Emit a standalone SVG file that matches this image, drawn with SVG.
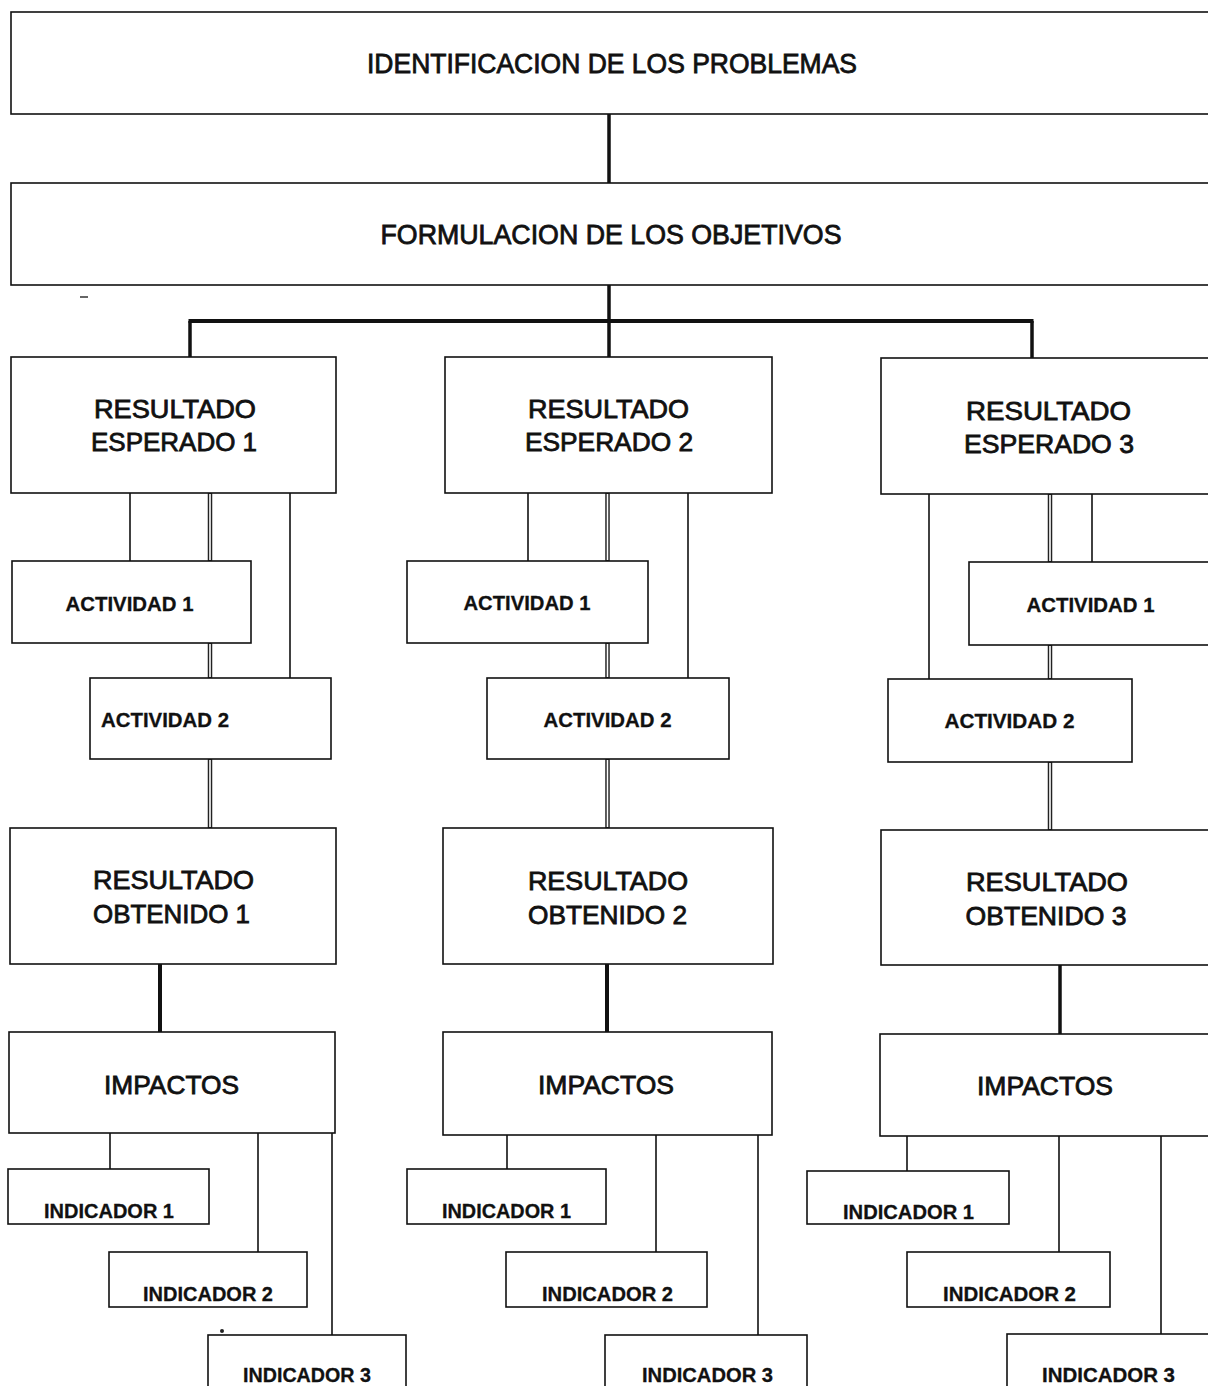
<svg xmlns="http://www.w3.org/2000/svg" width="1208" height="1386" viewBox="0 0 1208 1386">
<style>
  .box { fill: #fff; stroke: #111; stroke-width: 1.6; }
  .big { font-family: "Liberation Sans", Arial, sans-serif; font-size: 26px; fill: #111; stroke: #111; stroke-width: 0.8; text-anchor: middle; }
  .title { font-family: "Liberation Sans", Arial, sans-serif; font-size: 27px; fill: #111; stroke: #111; stroke-width: 0.8; text-anchor: middle; }
  .small { font-family: "Liberation Sans", Arial, sans-serif; font-size: 21px; font-weight: bold; fill: #111; stroke: #111; stroke-width: 0.3; text-anchor: middle; }
  .thin { stroke: #111; stroke-width: 1.6; fill: none; }
  .thick { stroke: #111; stroke-width: 3.5; fill: none; }
  .dbl-o { stroke: #222; stroke-width: 4.5; fill: none; }
  .dbl-i { stroke: #fff; stroke-width: 1.6; fill: none; }
</style>

<g id="connectors">
  <line class="thick" x1="609" y1="114" x2="609" y2="183"/>
  <line class="thick" x1="609" y1="285" x2="609" y2="321"/>
  <line class="thick" x1="188.5" y1="321" x2="1033.5" y2="321" style="stroke-width:4"/>
  <line class="thick" x1="190" y1="321" x2="190" y2="357"/>
  <line class="thick" x1="609" y1="321" x2="609" y2="357"/>
  <line class="thick" x1="1032" y1="321" x2="1032" y2="358"/>

  <!-- column 1 -->
  <line class="thin" x1="130" y1="493" x2="130" y2="561"/>
  <line class="thin" x1="290" y1="493" x2="290" y2="678"/>
  <path class="dbl-o" d="M210 493V561M210 643V678M210 759V828"/>
  <path class="dbl-i" d="M210 494V560M210 644V677M210 760V827"/>
  <line class="thick" x1="160" y1="964" x2="160" y2="1032" style="stroke-width:4"/>
  <line class="thin" x1="110" y1="1133" x2="110" y2="1169"/>
  <line class="thin" x1="258" y1="1133" x2="258" y2="1252"/>
  <line class="thin" x1="332" y1="1133" x2="332" y2="1335"/>

  <!-- column 2 -->
  <line class="thin" x1="528" y1="493" x2="528" y2="561"/>
  <line class="thin" x1="688" y1="493" x2="688" y2="678"/>
  <path class="dbl-o" d="M607.5 493V561M607.5 643V678M607.5 759V828"/>
  <path class="dbl-i" d="M607.5 494V560M607.5 644V677M607.5 760V827"/>
  <line class="thick" x1="607" y1="964" x2="607" y2="1032" style="stroke-width:4"/>
  <line class="thin" x1="507" y1="1135" x2="507" y2="1169"/>
  <line class="thin" x1="656" y1="1135" x2="656" y2="1252"/>
  <line class="thin" x1="758" y1="1135" x2="758" y2="1335"/>

  <!-- column 3 -->
  <line class="thin" x1="929" y1="494" x2="929" y2="679"/>
  <line class="thin" x1="1092" y1="494" x2="1092" y2="562"/>
  <path class="dbl-o" d="M1050 494V562M1050 645V679M1050 762V830"/>
  <path class="dbl-i" d="M1050 495V561M1050 646V678M1050 763V829"/>
  <line class="thick" x1="1060" y1="965" x2="1060" y2="1034"/>
  <line class="thin" x1="907" y1="1136" x2="907" y2="1171"/>
  <line class="thin" x1="1059" y1="1136" x2="1059" y2="1252"/>
  <line class="thin" x1="1161" y1="1136" x2="1161" y2="1334"/>
</g>

<g id="marks">
  <line x1="80" y1="297" x2="88" y2="297" stroke="#333" stroke-width="1.5"/>
  <circle cx="222" cy="1331" r="2" fill="#222"/>
</g>

<g id="problemas">
  <rect class="box" x="11" y="12" width="1212" height="102"/>
  <text class="title" x="612" y="73" textLength="490" lengthAdjust="spacingAndGlyphs">IDENTIFICACION DE LOS PROBLEMAS</text>
</g>
<g id="objetivos">
  <rect class="box" x="11" y="183" width="1212" height="102"/>
  <text class="title" x="611" y="244" textLength="461" lengthAdjust="spacingAndGlyphs">FORMULACION DE LOS OBJETIVOS</text>
</g>

<g id="esperado1">
  <rect class="box" x="11" y="357" width="325" height="136"/>
  <text class="big" x="175" y="418" textLength="162" lengthAdjust="spacingAndGlyphs">RESULTADO</text>
  <text class="big" x="174" y="451" textLength="166" lengthAdjust="spacingAndGlyphs">ESPERADO 1</text>
</g>
<g id="esperado2">
  <rect class="box" x="445" y="357" width="327" height="136"/>
  <text class="big" x="608.5" y="418" textLength="161" lengthAdjust="spacingAndGlyphs">RESULTADO</text>
  <text class="big" x="609" y="451" textLength="168" lengthAdjust="spacingAndGlyphs">ESPERADO 2</text>
</g>
<g id="esperado3">
  <rect class="box" x="881" y="358" width="340" height="136"/>
  <text class="big" x="1048.5" y="420" textLength="165" lengthAdjust="spacingAndGlyphs">RESULTADO</text>
  <text class="big" x="1049" y="453" textLength="170" lengthAdjust="spacingAndGlyphs">ESPERADO 3</text>
</g>

<g id="actividad1-1">
  <rect class="box" x="12" y="561" width="239" height="82"/>
  <text class="small" x="129.5" y="611" textLength="128" lengthAdjust="spacingAndGlyphs">ACTIVIDAD 1</text>
</g>
<g id="actividad1-2">
  <rect class="box" x="90" y="678" width="241" height="81"/>
  <text class="small" x="165" y="727" textLength="128" lengthAdjust="spacingAndGlyphs">ACTIVIDAD 2</text>
</g>
<g id="actividad2-1">
  <rect class="box" x="407" y="561" width="241" height="82"/>
  <text class="small" x="527" y="610" textLength="127" lengthAdjust="spacingAndGlyphs">ACTIVIDAD 1</text>
</g>
<g id="actividad2-2">
  <rect class="box" x="487" y="678" width="242" height="81"/>
  <text class="small" x="607.5" y="727" textLength="128" lengthAdjust="spacingAndGlyphs">ACTIVIDAD 2</text>
</g>
<g id="actividad3-1">
  <rect class="box" x="969" y="562" width="250" height="83"/>
  <text class="small" x="1090.5" y="612" textLength="128" lengthAdjust="spacingAndGlyphs">ACTIVIDAD 1</text>
</g>
<g id="actividad3-2">
  <rect class="box" x="888" y="679" width="244" height="83"/>
  <text class="small" x="1009.5" y="728" textLength="130" lengthAdjust="spacingAndGlyphs">ACTIVIDAD 2</text>
</g>

<g id="obtenido1">
  <rect class="box" x="10" y="828" width="326" height="136"/>
  <text class="big" x="173.5" y="889" textLength="161" lengthAdjust="spacingAndGlyphs">RESULTADO</text>
  <text class="big" x="171.5" y="923" textLength="157" lengthAdjust="spacingAndGlyphs">OBTENIDO 1</text>
</g>
<g id="obtenido2">
  <rect class="box" x="443" y="828" width="330" height="136"/>
  <text class="big" x="608" y="890" textLength="160" lengthAdjust="spacingAndGlyphs">RESULTADO</text>
  <text class="big" x="607.5" y="924" textLength="159" lengthAdjust="spacingAndGlyphs">OBTENIDO 2</text>
</g>
<g id="obtenido3">
  <rect class="box" x="881" y="830" width="340" height="135"/>
  <text class="big" x="1047" y="891" textLength="162" lengthAdjust="spacingAndGlyphs">RESULTADO</text>
  <text class="big" x="1046" y="925" textLength="161" lengthAdjust="spacingAndGlyphs">OBTENIDO 3</text>
</g>

<g id="impactos1">
  <rect class="box" x="9" y="1032" width="326" height="101"/>
  <text class="big" x="171.5" y="1094" textLength="135" lengthAdjust="spacingAndGlyphs">IMPACTOS</text>
</g>
<g id="impactos2">
  <rect class="box" x="443" y="1032" width="329" height="103"/>
  <text class="big" x="606" y="1094" textLength="136" lengthAdjust="spacingAndGlyphs">IMPACTOS</text>
</g>
<g id="impactos3">
  <rect class="box" x="880" y="1034" width="341" height="102"/>
  <text class="big" x="1045" y="1095" textLength="136" lengthAdjust="spacingAndGlyphs">IMPACTOS</text>
</g>

<g id="indicador1-1">
  <rect class="box" x="8" y="1169" width="201" height="55"/>
  <text class="small" x="109" y="1218" textLength="130" lengthAdjust="spacingAndGlyphs">INDICADOR 1</text>
</g>
<g id="indicador1-2">
  <rect class="box" x="109" y="1252" width="198" height="55"/>
  <text class="small" x="208" y="1301" textLength="130" lengthAdjust="spacingAndGlyphs">INDICADOR 2</text>
</g>
<g id="indicador1-3">
  <rect class="box" x="208" y="1335" width="198" height="70"/>
  <text class="small" x="307" y="1382" textLength="128" lengthAdjust="spacingAndGlyphs">INDICADOR 3</text>
</g>
<g id="indicador2-1">
  <rect class="box" x="407" y="1169" width="199" height="55"/>
  <text class="small" x="506.5" y="1218" textLength="129" lengthAdjust="spacingAndGlyphs">INDICADOR 1</text>
</g>
<g id="indicador2-2">
  <rect class="box" x="506" y="1252" width="201" height="55"/>
  <text class="small" x="607.5" y="1301" textLength="131" lengthAdjust="spacingAndGlyphs">INDICADOR 2</text>
</g>
<g id="indicador2-3">
  <rect class="box" x="605" y="1335" width="202" height="70"/>
  <text class="small" x="707.5" y="1382" textLength="131" lengthAdjust="spacingAndGlyphs">INDICADOR 3</text>
</g>
<g id="indicador3-1">
  <rect class="box" x="807" y="1171" width="202" height="53"/>
  <text class="small" x="908.5" y="1219" textLength="131" lengthAdjust="spacingAndGlyphs">INDICADOR 1</text>
</g>
<g id="indicador3-2">
  <rect class="box" x="907" y="1252" width="203" height="55"/>
  <text class="small" x="1009.5" y="1301" textLength="133" lengthAdjust="spacingAndGlyphs">INDICADOR 2</text>
</g>
<g id="indicador3-3">
  <rect class="box" x="1007" y="1334" width="214" height="71"/>
  <text class="small" x="1108.5" y="1382" textLength="133" lengthAdjust="spacingAndGlyphs">INDICADOR 3</text>
</g>
</svg>
